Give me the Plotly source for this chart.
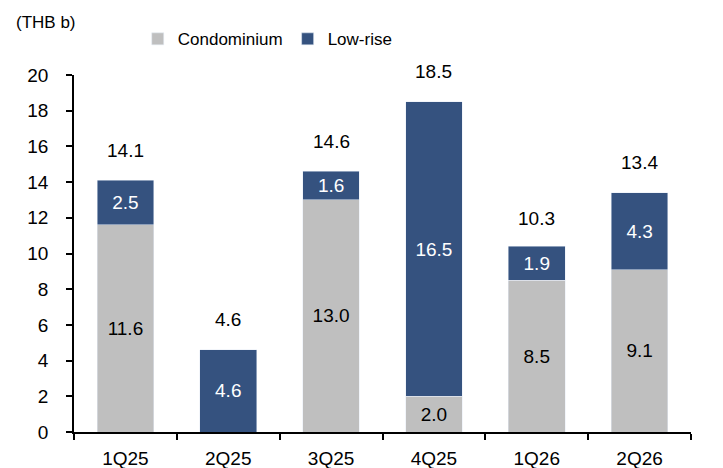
import plotly.graph_objects as go

quarters = ["1Q25", "2Q25", "3Q25", "4Q25", "1Q26", "2Q26"]
condominium = [11.6, 0.0, 13.0, 2.0, 8.5, 9.1]
low_rise = [2.5, 4.6, 1.6, 16.5, 1.9, 4.3]
totals = [14.1, 4.6, 14.6, 18.5, 10.3, 13.4]

GRAY = "#BFBFBF"
BLUE = "#35527F"
FONT = "Liberation Sans, Arial, sans-serif"
FS = 19

condo_text = [f"{v:.1f}" if v > 0 else "" for v in condominium]
low_text = [f"{v:.1f}" for v in low_rise]

fig = go.Figure()
fig.add_trace(go.Bar(
    x=quarters, y=condominium, name="Condominium", marker_color=GRAY,
    text=condo_text, textposition="inside", insidetextanchor="middle",
    textangle=0, constraintext="none",
    textfont=dict(color="black", size=FS, family=FONT),
))
fig.add_trace(go.Bar(
    x=quarters, y=low_rise, name="Low-rise", marker_color=BLUE,
    text=low_text, textposition="inside", insidetextanchor="middle",
    textangle=0, constraintext="none",
    textfont=dict(color="white", size=FS, family=FONT),
))

for q, t in zip(quarters, totals):
    fig.add_annotation(x=q, y=t, text=f"{t:.1f}", showarrow=False,
                       yanchor="middle", yshift=30,
                       font=dict(size=FS, color="black", family=FONT))

fig.add_annotation(xref="paper", yref="paper", x=-0.0446, y=1.148,
                   text="(THB b)", showarrow=False, xanchor="center", yanchor="middle",
                   font=dict(size=17, color="black", family=FONT))

fig.update_layout(
    width=723, height=468,
    margin=dict(l=74, r=32, t=75, b=36, autoexpand=False),
    barmode="stack", bargap=0.45,
    plot_bgcolor="white", paper_bgcolor="white",
    font=dict(family=FONT, size=FS, color="black"),
    showlegend=True,
    legend=dict(orientation="h", x=0.314, y=1.1, xanchor="center", yanchor="middle",
                font=dict(size=17, family=FONT), itemwidth=30,
                bgcolor="rgba(0,0,0,0)", traceorder="normal"),
)
fig.update_xaxes(showline=True, linecolor="black", linewidth=1.5, automargin=False,
                 ticks="outside", ticklen=6, tickcolor="black", tickwidth=1.5,
                 tickson="boundaries", showgrid=False, ticklabelstandoff=8,
                 tickfont=dict(size=FS, family=FONT))
fig.update_yaxes(range=[0, 20], dtick=2, showline=True, linecolor="black", linewidth=1.5,
                 automargin=False, ticklabelstandoff=14,
                 ticks="outside", ticklen=6, tickcolor="black", tickwidth=1.5,
                 showgrid=False, zeroline=False,
                 tickfont=dict(size=FS, family=FONT))

fig.write_html("out.html")
